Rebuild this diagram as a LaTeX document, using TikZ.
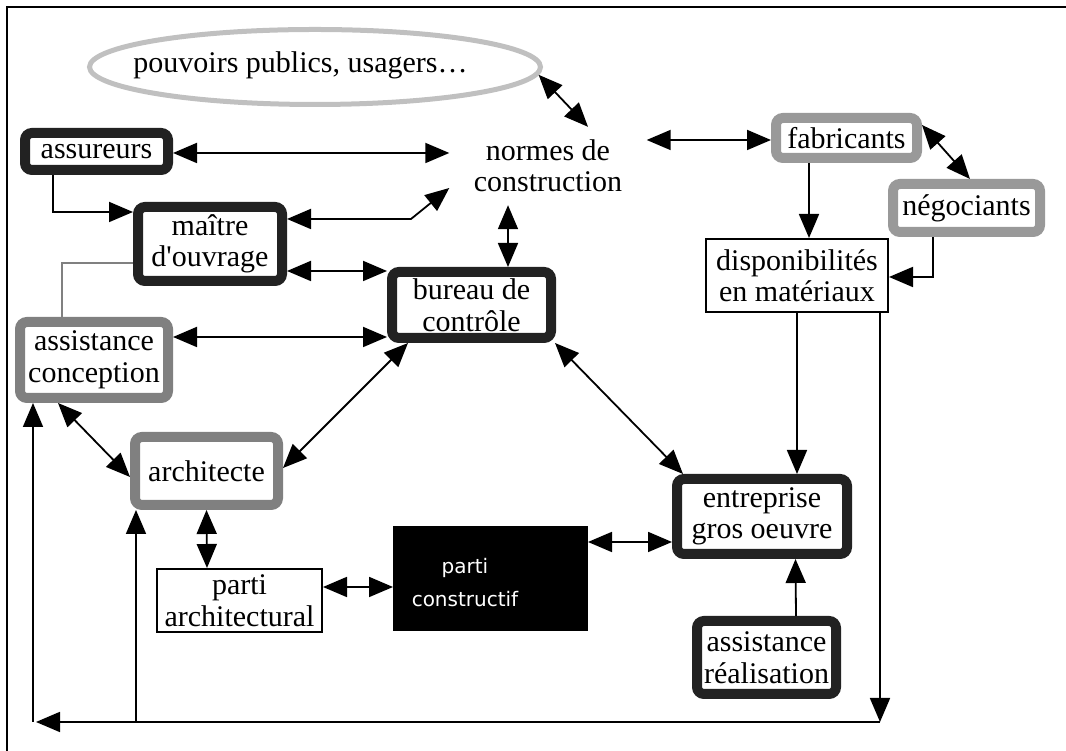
\documentclass[tikz,border=0pt]{standalone}
\usepackage{fontspec}
\setmainfont{Liberation Serif}[Ligatures=TeXOff]
\newfontfamily\genevafont{DejaVu Sans}
\usetikzlibrary{arrows.meta,shapes.geometric}
\definecolor{dk}{HTML}{222222}
\definecolor{gy}{HTML}{808080}
\definecolor{lg}{HTML}{999999}
\definecolor{el}{HTML}{C0C0C0}
\begin{document}
\begin{tikzpicture}[x=1pt,y=1pt,
  every node/.style={font=\fontsize{30}{31.5}\selectfont, align=center, inner sep=0pt},
  thickbox/.style={draw=#1, line width=10pt, rounded corners=7pt, fill=white},
  thinbox/.style={draw=black, line width=2pt, fill=white},
  arr/.style={line width=1.8pt, -{Triangle[length=24pt,width=20pt]}},
  dbl/.style={line width=1.8pt, {Triangle[length=24pt,width=20pt]}-{Triangle[length=24pt,width=20pt]}},
  grayline/.style={draw=gy, line width=2pt},
]
\useasboundingbox (0,0) rectangle (1066,751);
\draw[line width=2pt] (7,0) -- (7,744) -- (1066,744);

\node[draw=el, line width=5pt, ellipse, minimum width=451, minimum height=75,
  label={[xshift=-14.5, yshift=2]center:pouvoirs publics, usagers…}] (ell) at (315,684) {};
\node[minimum width=197, minimum height=78] (norm) at (548,585) {normes de\\construction};
\node[thickbox=dk, minimum width=143, minimum height=37] (ass) at (96.5,599.5) {assureurs};
\node[thickbox=dk, minimum width=144, minimum height=74] (mai) at (210,507) {maître\\d'ouvrage};
\node[thickbox=dk, minimum width=159, minimum height=66] (bur) at (471.5,446) {bureau de\\contrôle};
\node[thickbox=gy, minimum width=148, minimum height=76] (ac) at (94,391) {assistance\\conception};
\node[thickbox=gy, minimum width=143, minimum height=68] (arc) at (206.5,280) {architecte};
\node[thickbox=dk, minimum width=170, minimum height=75] (ent) at (762,234.5) {entreprise\\gros oeuvre};
\node[thickbox=dk, minimum width=139, minimum height=73] (ar) at (766.5,93.5) {assistance\\réalisation};
\node[thickbox=lg, minimum width=141, minimum height=40] (fab) at (846.5,613) {fabricants};
\node[thickbox=lg, minimum width=147, minimum height=48] (neg) at (966.5,543) {négociants};
\node[thinbox, minimum width=165, minimum height=63] (pa) at (239.5,150.5) {parti\\architectural};
\node[thinbox, minimum width=182, minimum height=73] (disp) at (797,475.5) {disponibilités\\en matériaux};
\node[fill=black, minimum width=195, minimum height=105, outer sep=0pt,
  label={[font=\genevafont\fontsize{20}{33}\selectfont, text=white, align=center, xshift=-25.5, yshift=-4.5]center:parti\\constructif}] (pc) at (490.5,172.5) {};

\coordinate (br) at (880,29);
\coordinate (bl) at (33,29);
\coordinate (bm) at (136,29);

\draw[dbl] (ell.-2) -- ([xshift=40]norm.north);
\draw[dbl] ([yshift=-1.5]ass.east) -- ([yshift=13]norm.west);
\draw[dbl] ([yshift=26]norm.east) -- ([yshift=-2]fab.west);
\draw[dbl] ([yshift=13]fab.east) -- ([xshift=3.5]neg.north);
\draw[arr] ([xshift=-37.5]fab.south) -- ([xshift=12]disp.north);
\draw[arr] ([xshift=-33.5]neg.south) |- ([yshift=-1.5]disp.east);
\draw[arr] ([xshift=-43.5]ass.south) |- ([yshift=32]mai.west);
\draw[dbl] ([yshift=25]mai.east) -- ++(124,0) -- ([yshift=-22]norm.west);
\draw[dbl] ([xshift=-40]norm.south) -- ([xshift=36.5]bur.north);
\draw[dbl] ([yshift=-27]mai.east) -- ([yshift=34]bur.west);
\draw[dbl] ([yshift=23]ac.east) -- ([yshift=-32]bur.west);
\draw[dbl] ([xshift=-63.5]bur.south) -- ([yshift=3]arc.east);
\draw[dbl] ([xshift=-1]bur.south east) -- ([xshift=11]ent.north west);
\draw[dbl] ([xshift=-36]ac.south) -- ([yshift=-6]arc.west);
\draw[dbl] (arc.south) -- ([xshift=-32.5]pa.north);
\draw[dbl] ([yshift=13.5]pa.east) -- ([yshift=-8.5]pc.west);
\draw[dbl] ([yshift=36.5]pc.east) -- ([yshift=-25.5]ent.west);
\draw[arr] ([xshift=29.5]ar.north) -- ([xshift=33.5]ent.south);
\draw[arr] (disp.south) -- ([xshift=35]ent.north);
\draw[arr] ([xshift=-9]disp.south east) -- (br);
\draw[arr, shorten >=3pt] (br) -- (bl);
\draw[arr] (bl) -- ([xshift=-61]ac.south);
\draw[arr] (bm) -- ([xshift=-70.5]arc.south);
\draw[grayline] ([yshift=-19]mai.west) -| ([xshift=-32]ac.north);
\end{tikzpicture}
\end{document}
